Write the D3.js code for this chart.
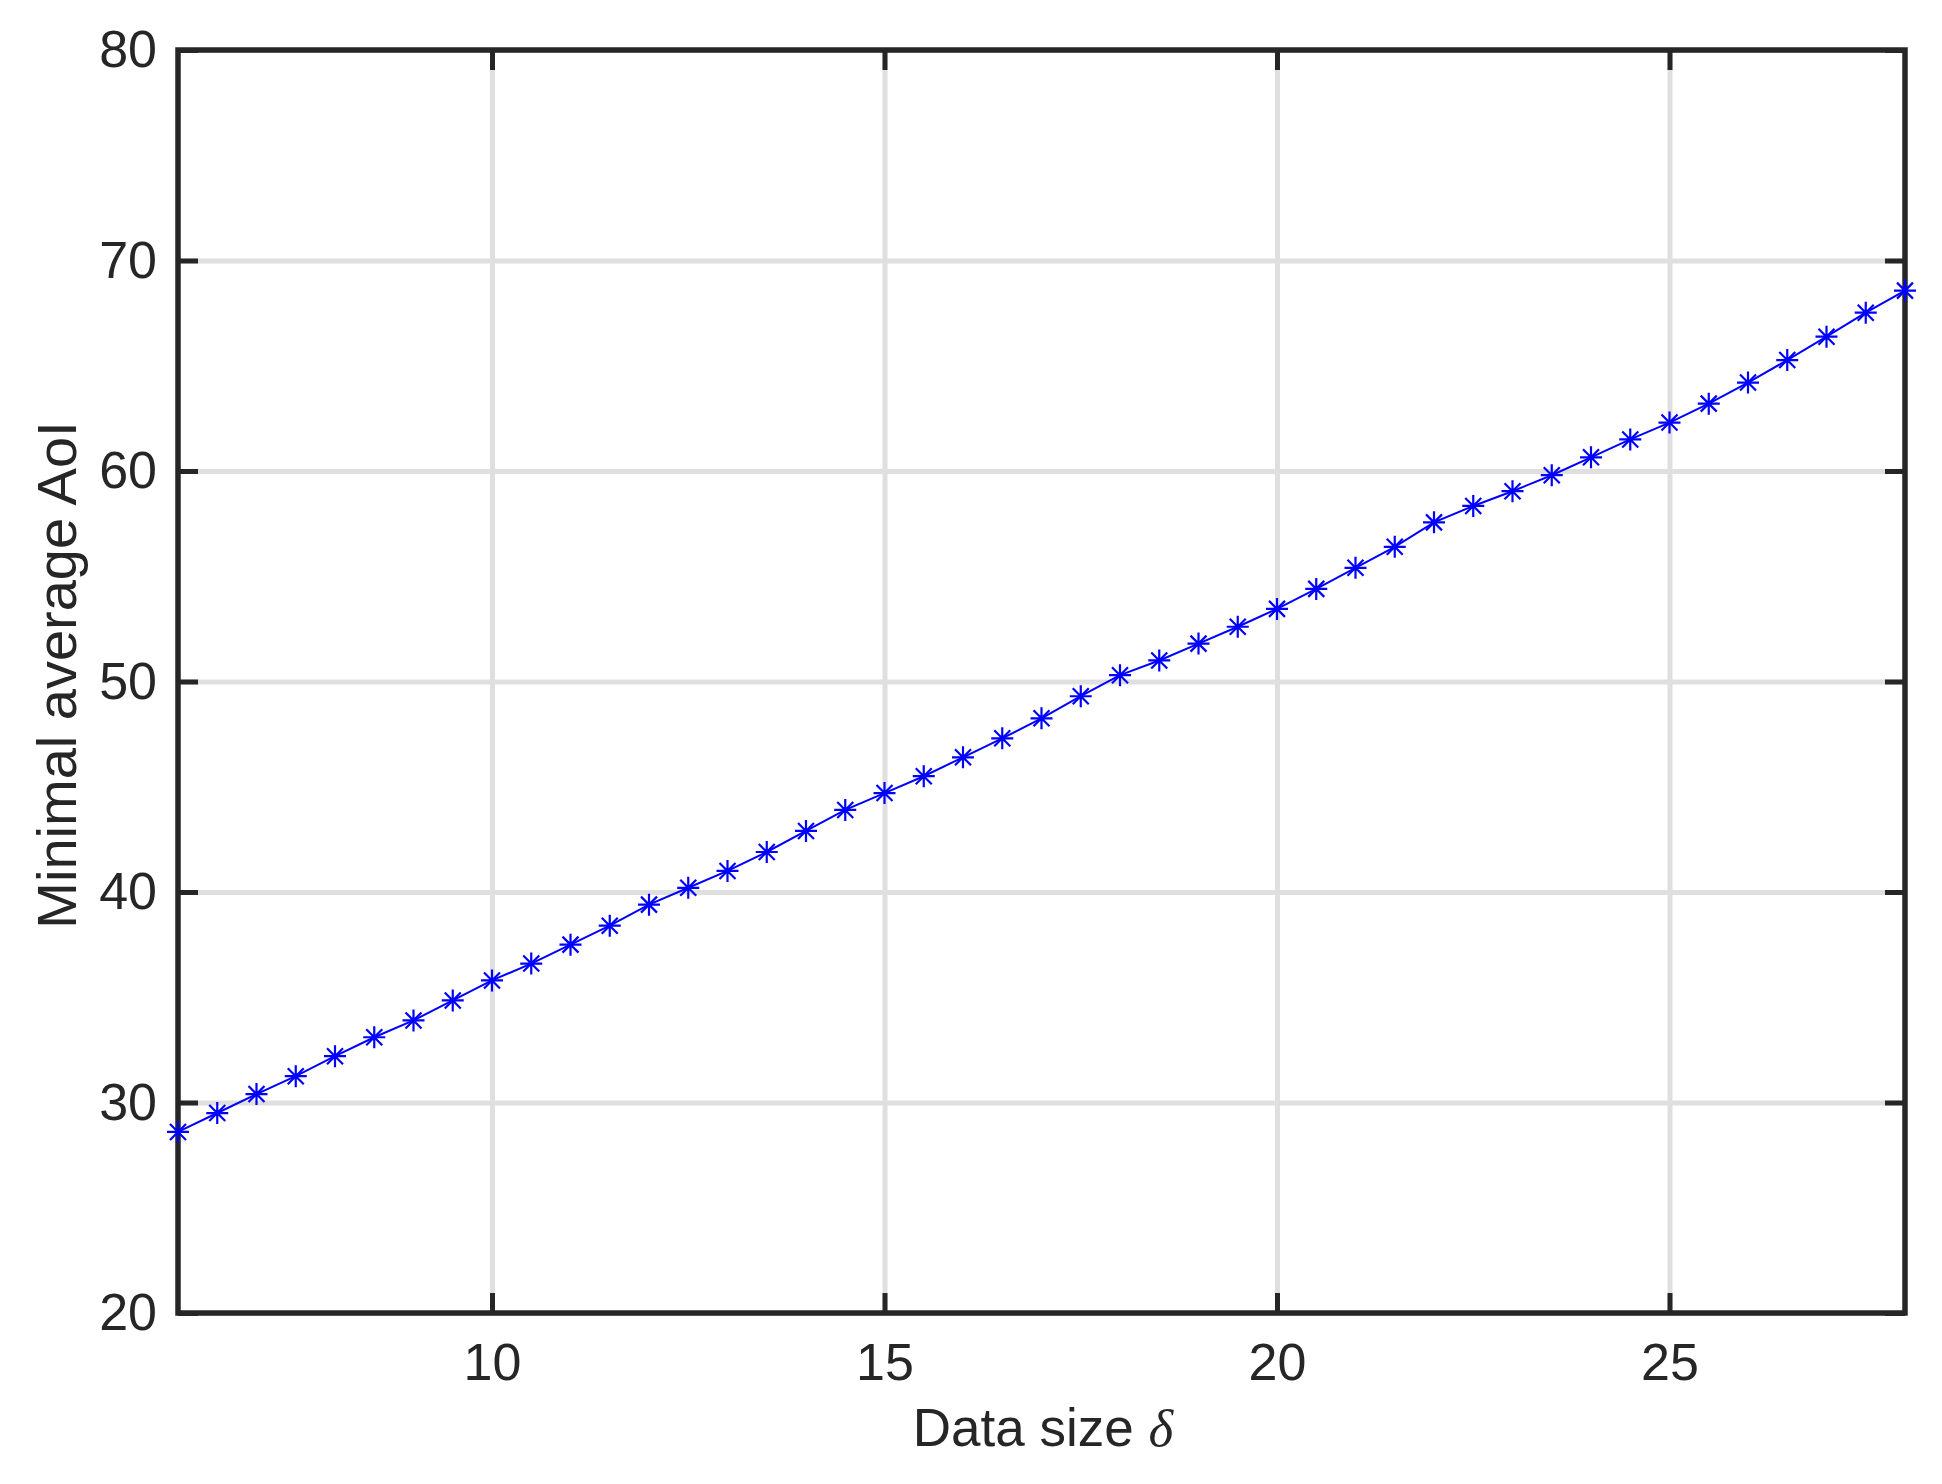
<!DOCTYPE html>
<html>
<head>
<meta charset="utf-8">
<script src="https://cdn.jsdelivr.net/npm/d3@7"></script>
<style>
  body { margin: 0; background: #fff; }
  text { font-family: "Liberation Sans", Arial, Helvetica, sans-serif; fill: #262626; }
</style>
</head>
<body>
<div id="aoiChart"></div>
<script>
// data
var dataSize = [6, 6.5, 7, 7.5, 8, 8.5, 9, 9.5, 10, 10.5, 11, 11.5, 12, 12.5, 13, 13.5,
                14, 14.5, 15, 15.5, 16, 16.5, 17, 17.5, 18, 18.5, 19, 19.5, 20, 20.5,
                21, 21.5, 22, 22.5, 23, 23.5, 24, 24.5, 25, 25.5, 26, 26.5, 27, 27.5, 28];
var minAoI = [28.6, 29.5, 30.4, 31.25, 32.2, 33.1, 33.9, 34.85, 35.8, 36.6, 37.5, 38.4,
              39.4, 40.2, 41.0, 41.9, 42.9, 43.9, 44.7, 45.5, 46.4, 47.3, 48.25, 49.3,
              50.3, 51.0, 51.8, 52.6, 53.45, 54.4, 55.4, 56.4, 57.56, 58.34, 59.04, 59.8,
              60.65, 61.5, 62.3, 63.2, 64.2, 65.27, 66.38, 67.52, 68.57];
var xTicks = [10, 15, 20, 25];
var yTicks = [20, 30, 40, 50, 60, 70, 80];

var w = 1942, h = 1484;
var margin = {top: 50, right: 37, bottom: 171, left: 178},
    width = w - margin.left - margin.right,
    height = h - margin.top - margin.bottom;

var svg = d3.select("#aoiChart")
  .append("svg")
  .attr("width", w)
  .attr("height", h);

var g = svg.append("g")
  .attr("transform", "translate(" + margin.left + "," + margin.top + ")");

var x = d3.scaleLinear().domain([6, 28]).range([0, width]);
var y = d3.scaleLinear().domain([20, 80]).range([height, 0]);

// grid
g.append("g")
  .attr("class", "grid")
  .attr("transform", "translate(0," + height + ")")
  .call(d3.axisBottom(x).tickValues(xTicks).tickSize(-height).tickFormat(""));
g.append("g")
  .attr("class", "grid")
  .call(d3.axisLeft(y).tickValues(yTicks).tickSize(-width).tickFormat(""));
g.selectAll(".grid .domain").remove();
g.selectAll(".grid line").attr("stroke", "#dfdfdf").attr("stroke-width", 5);

// box + inner ticks
var tickLen = 20;
function styleAxis(sel) {
  sel.select(".domain").remove();
  sel.selectAll("line").attr("stroke", "#262626").attr("stroke-width", 5);
  sel.selectAll("text").style("font-size", "52px").attr("fill", "#262626");
}
g.append("g")
  .attr("transform", "translate(0," + height + ")")
  .call(d3.axisBottom(x).tickValues(xTicks).tickSizeInner(-tickLen).tickSizeOuter(0).tickPadding(30))
  .call(styleAxis);
g.append("g")
  .call(d3.axisTop(x).tickValues(xTicks).tickSizeInner(-tickLen).tickSizeOuter(0).tickFormat(""))
  .call(styleAxis);
g.append("g")
  .call(d3.axisLeft(y).tickValues(yTicks).tickSizeInner(-tickLen).tickSizeOuter(0).tickPadding(21))
  .call(styleAxis);
g.append("g")
  .attr("transform", "translate(" + width + ",0)")
  .call(d3.axisRight(y).tickValues(yTicks).tickSizeInner(-tickLen).tickSizeOuter(0).tickFormat(""))
  .call(styleAxis);
g.selectAll(".tick text").attr("font-family", "Liberation Sans, Arial, sans-serif");

g.append("rect")
  .attr("x", 0).attr("y", 0)
  .attr("width", width).attr("height", height)
  .attr("fill", "none")
  .attr("stroke", "#262626")
  .attr("stroke-width", 5.5);

// line
var line = d3.line()
  .x(function(d, i) { return x(dataSize[i]); })
  .y(function(d) { return y(d); });
g.append("path")
  .datum(minAoI)
  .attr("d", line)
  .attr("fill", "none")
  .attr("stroke", "#0000ff")
  .attr("stroke-width", 2);

// asterisk markers
var r = 11, rd = 8;
var star = "M0," + (-r) + "V" + r + "M" + (-r) + ",0H" + r +
           "M" + (-rd) + "," + (-rd) + "L" + rd + "," + rd +
           "M" + (-rd) + "," + rd + "L" + rd + "," + (-rd);
g.selectAll(".mark")
  .data(minAoI)
  .enter()
  .append("path")
    .attr("class", "mark")
    .attr("transform", function(d, i) { return "translate(" + x(dataSize[i]) + "," + y(d) + ")"; })
    .attr("d", star)
    .attr("fill", "none")
    .attr("stroke", "#0000ff")
    .attr("stroke-width", 2.2);

// axis labels
var xl = svg.append("text")
  .attr("x", 1043)
  .attr("y", 1446)
  .attr("text-anchor", "middle")
  .style("font-size", "53px")
  .text("Data size ");
xl.append("tspan")
  .style("font-family", "'Liberation Serif', 'DejaVu Serif', serif")
  .style("font-style", "italic")
  .text("δ");

svg.append("text")
  .attr("transform", "translate(76,675)rotate(-90)")
  .attr("text-anchor", "middle")
  .style("font-size", "56px")
  .text("Minimal average AoI");
</script>
</body>
</html>
